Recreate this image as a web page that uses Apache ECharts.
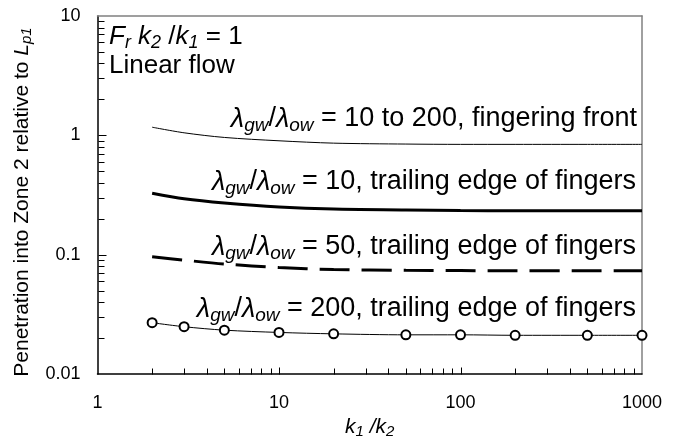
<!DOCTYPE html>
<html>
<head>
<meta charset="utf-8">
<script src="https://cdn.jsdelivr.net/npm/echarts@6/dist/echarts.min.js"></script>
<style>html,body{margin:0;padding:0;background:#fff;}#chart{width:681px;height:436px;}</style>
</head>
<body>
<div id="chart"></div>
<script>
// ---- data ----
const kRatio = [2, 3, 5, 10, 20, 50, 100, 200, 500, 1000];
const fingeringFront = [1.17, 1.05, 0.96, 0.90, 0.86, 0.845, 0.84, 0.84, 0.84, 0.84];
const trailing10 = [0.327, 0.294, 0.271, 0.251, 0.241, 0.237, 0.234, 0.233, 0.233, 0.233];
const trailing50 = [0.0961, 0.090, 0.0835, 0.078, 0.075, 0.0739, 0.0735, 0.0733, 0.0733, 0.0733];
const trailing200 = [0.0269, 0.0249, 0.0233, 0.0223, 0.0217, 0.0213, 0.0213, 0.0211, 0.0211, 0.0211];
const xTickLabels = ['1', '10', '100', '1000'];
const yTickLabels = ['0.01', '0.1', '1', '10'];
const xMinorTicks = [2,3,4,5,6,7,8,9,20,30,40,50,60,70,80,90,200,300,400,500,600,700,800,900];
const yMinorTicks = [0.02,0.03,0.04,0.05,0.06,0.07,0.08,0.09,0.2,0.3,0.4,0.5,0.6,0.7,0.8,0.9,2,3,4,5,6,7,8,9];
const xMajorInner = [10, 100];
const yMajorInner = [0.1, 1];

const FONT = "'Liberation Sans', Arial, sans-serif";
const pair = (xs, ys) => xs.map((x, i) => [x, ys[i]]);

const chart = echarts.init(document.getElementById('chart'), null, {renderer: 'canvas'});

function lamRich(size) {
  return {
    g: {fontFamily: FONT, fontSize: size, fontStyle: 'italic', color: '#000', lineHeight: 32},
    s: {fontFamily: FONT, fontSize: Math.round(size * 0.7), fontStyle: 'italic', color: '#000', lineHeight: 15, verticalAlign: 'bottom'},
    n: {fontFamily: FONT, fontSize: size, color: '#000', lineHeight: 32}
  };
}
function lamText(rest) {
  return '{g|λ}{s|gw}{n|/}{g|λ}{s|ow}{n| = ' + rest + '}';
}

const textGraphics = [
  {
    type: 'text', x: 109, y: 37,
    style: {
      text: '{i|F}{s|r}{i| k}{s|2}{n| /}{i|k}{s|1}{n| = 1}',
      verticalAlign: 'middle',
      rich: {
        i: {fontFamily: FONT, fontSize: 26, fontStyle: 'italic', color: '#000', lineHeight: 30},
        n: {fontFamily: FONT, fontSize: 26, color: '#000', lineHeight: 30},
        s: {fontFamily: FONT, fontSize: 18, fontStyle: 'italic', color: '#000', lineHeight: 14, verticalAlign: 'bottom'}
      }
    }
  },
  {
    type: 'text', x: 109, y: 66,
    style: {text: 'Linear flow', fontFamily: FONT, fontSize: 26, fill: '#000', verticalAlign: 'middle'}
  },
  {
    type: 'text', x: 637, y: 119,
    style: {text: lamText('10 to 200, fingering front'), align: 'right', verticalAlign: 'middle', rich: lamRich(27)}
  },
  {
    type: 'text', x: 636, y: 182,
    style: {text: lamText('10, trailing edge of fingers'), align: 'right', verticalAlign: 'middle', rich: lamRich(27)}
  },
  {
    type: 'text', x: 636, y: 247,
    style: {text: lamText('50, trailing edge of fingers'), align: 'right', verticalAlign: 'middle', rich: lamRich(27)}
  },
  {
    type: 'text', x: 636, y: 309,
    style: {text: lamText('200, trailing edge of fingers'), align: 'right', verticalAlign: 'middle', rich: lamRich(27)}
  }
];

const borderAxis = (pos, min, max) => ({
  type: 'log', logBase: 10, min: min, max: max, position: pos,
  axisLine: {show: true, onZero: false, lineStyle: {color: '#808080', width: 1.5}},
  axisTick: {show: false}, axisLabel: {show: false}, splitLine: {show: false}
});

const option = {
  animation: false,
  grid: {left: 97.5, right: 39, top: 16, bottom: 62, outerBoundsMode: 'none'},
  xAxis: [{
    type: 'log', logBase: 10, min: 1, max: 1000, position: 'bottom',
    axisLine: {show: true, onZero: false, lineStyle: {color: '#000', width: 1.5}},
    axisTick: {show: false},
    splitLine: {show: false},
    axisLabel: {
      margin: 20, fontFamily: FONT, fontSize: 18, color: '#000',
      formatter: v => xTickLabels[Math.round(Math.log10(v))]
    },
    name: '{i|k}{s|1}{i| /k}{s|2}',
    nameLocation: 'middle', nameGap: 37,
    nameTextStyle: {
      rich: {
        i: {fontFamily: FONT, fontSize: 21, fontStyle: 'italic', color: '#000', lineHeight: 24},
        s: {fontFamily: FONT, fontSize: 15, fontStyle: 'italic', color: '#000', lineHeight: 12, verticalAlign: 'bottom'}
      }
    }
  }, borderAxis('top', 1, 1000)],
  yAxis: [{
    type: 'log', logBase: 10, min: 0.01, max: 10, position: 'left',
    axisLine: {show: true, onZero: false, lineStyle: {color: '#000', width: 1.5}},
    axisTick: {show: false},
    splitLine: {show: false},
    axisLabel: {
      margin: 17, fontFamily: FONT, fontSize: 18, color: '#000',
      formatter: v => yTickLabels[Math.round(Math.log10(v)) + 2]
    },
    name: '{n|Penetration into Zone 2 relative to }{i|L}{s|p1}',
    nameLocation: 'middle', nameGap: 59, nameRotate: 90,
    nameTextStyle: {
      padding: [0, 14, 0, 0],
      rich: {
        n: {fontFamily: FONT, fontSize: 21, color: '#000', lineHeight: 24},
        i: {fontFamily: FONT, fontSize: 21, fontStyle: 'italic', color: '#000', lineHeight: 24},
        s: {fontFamily: FONT, fontSize: 15, fontStyle: 'italic', color: '#000', lineHeight: 12, verticalAlign: 'bottom'}
      }
    }
  }, borderAxis('right', 0.01, 10)],
  series: [
    {
      name: 'front', type: 'line', data: pair(kRatio, fingeringFront),
      showSymbol: false, smooth: 0.3, lineStyle: {color: '#000', width: 1, type: 'solid'}
    },
    {
      name: 'trail10', type: 'line', data: pair(kRatio, trailing10),
      showSymbol: false, smooth: 0.3, lineStyle: {color: '#000', width: 3, type: 'solid'}
    },
    {
      name: 'trail50', type: 'line', data: pair(kRatio, trailing50),
      showSymbol: false, smooth: 0.3, lineStyle: {color: '#000', width: 3, type: [30, 12]}
    },
    {
      name: 'trail200', type: 'line', data: pair(kRatio, trailing200),
      symbol: 'emptyCircle', symbolSize: 9, showSymbol: true, showAllSymbol: true, smooth: 0.3,
      lineStyle: {color: '#000', width: 1, type: 'solid'},
      itemStyle: {color: '#000', borderColor: '#000', borderWidth: 1}
    }
  ],
  graphic: textGraphics
};
chart.setOption(option);

// inward tick marks, positioned with the chart's own log scales
function tickLines(vals, axis, len) {
  return vals.map(v => {
    const p = chart.convertToPixel({gridIndex: 0}, axis === 'x' ? [v, 0.01] : [1, v]);
    const x = Math.round(p[0]) + 0.5, y = Math.round(p[1]) + 0.5;
    return {
      type: 'line',
      shape: axis === 'x' ? {x1: x, y1: y, x2: x, y2: y - len} : {x1: x, y1: y, x2: x + len, y2: y},
      style: {stroke: '#000', lineWidth: 1}
    };
  });
}
try {
  const ticks = [].concat(
    tickLines(xMinorTicks, 'x', 6),
    tickLines(xMajorInner, 'x', 7),
    tickLines(yMinorTicks, 'y', 6),
    tickLines(yMajorInner, 'y', 8)
  );
  chart.setOption({graphic: textGraphics.concat(ticks)});
} catch (e) {
  console.error(e);
}
</script>
</body>
</html>
